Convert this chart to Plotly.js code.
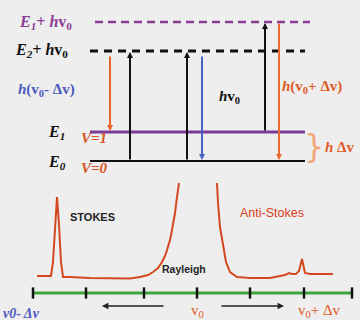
<!DOCTYPE html>
<html>
<head>
<meta charset="utf-8">
<script src="https://cdn.plot.ly/plotly-3.0.1.min.js"></script>
<style>html,body{margin:0;padding:0;background:#eeeeee;}#chart{width:360px;height:320px;}</style>
</head>
<body>
<div id="chart"></div>
<script>
// ---- data ----
const levelNames = ['E1+hv0', 'E2+hv0', 'E1', 'E0'];
const levelY = [22, 51, 132, 161];
const levelX0 = [95, 90, 90, 90];
const levelX1 = [310, 305, 305, 305];

const transNames = ['anti-stokes emission', 'excitation', 'excitation', 'rayleigh emission', 'excitation from E1', 'anti-stokes emission 2'];
const transX = [110, 130, 187, 202, 265, 279];
const transFromY = [55, 161, 161, 55, 132, 22];
const transToY = [131, 52, 52, 160, 23, 160];

const specLeftX = [37, 45, 51, 53, 55, 57, 59, 61, 63, 70, 90, 110, 130, 140, 148, 153, 158, 162, 165, 167, 170, 172, 174, 175, 177, 179];
const specLeftY = [276, 276, 276, 262, 225, 197, 225, 262, 277, 277, 278, 278.5, 278.5, 277, 275, 272, 268, 262, 256, 250, 240, 230, 220, 213, 197, 183];
const specRightX = [217, 218, 220, 223, 226, 230, 237, 250, 270, 285, 289, 292, 296, 299, 300.5, 302, 303.5, 305, 310, 333];
const specRightY = [183, 203, 227, 247, 262, 272, 277, 278, 278, 275, 273, 274, 274, 271, 264, 259, 266, 273, 274, 274];

const axisTickX = [33, 86, 144, 197, 250, 304, 352];

// ---- build ----
const traces = [];
const levelColors = ['#8a3c95', '#111111', '#7b3b98', '#111111'];
const levelDash = ['8px,5px', '8px,6px', 'solid', 'solid'];
const levelWidth = [2.5, 3, 3, 2.2];
for (let i = 0; i < levelY.length; i++) {
  traces.push({x: [levelX0[i], levelX1[i]], y: [levelY[i], levelY[i]], mode: 'lines', name: levelNames[i],
    line: {color: levelColors[i], width: levelWidth[i], dash: levelDash[i]}, hoverinfo: 'skip'});
}
traces.push({x: specLeftX, y: specLeftY, mode: 'lines', line: {color: '#d4481f', width: 2}, hoverinfo: 'skip'});
traces.push({x: specRightX, y: specRightY, mode: 'lines', line: {color: '#d4481f', width: 2}, hoverinfo: 'skip'});
traces.push({x: [axisTickX[0], axisTickX[axisTickX.length - 1]], y: [293, 293], mode: 'lines', line: {color: '#3aa53a', width: 3}, hoverinfo: 'skip'});
traces.push({x: axisTickX, y: axisTickX.map(() => 293), mode: 'markers', marker: {symbol: 'line-ns', size: 8, line: {color: '#111', width: 2.5}}, hoverinfo: 'skip'});

const transColors = ['#e8622a', '#111111', '#111111', '#4a62c4', '#111111', '#ee6a2e'];
const annotations = [];
for (let i = 0; i < transX.length; i++) {
  annotations.push({x: transX[i], y: transToY[i], ax: transX[i], ay: transFromY[i], xref: 'x', yref: 'y', axref: 'x', ayref: 'y',
    showarrow: true, arrowhead: 2, arrowsize: 0.6, arrowwidth: 2, arrowcolor: transColors[i], text: ''});
}
// bottom arrows
annotations.push({x: 102, y: 306, ax: 165, ay: 306, xref: 'x', yref: 'y', axref: 'x', ayref: 'y', showarrow: true, arrowhead: 2, arrowsize: 0.8, arrowwidth: 1.6, arrowcolor: '#222', text: ''});
annotations.push({x: 284, y: 306, ax: 220, ay: 306, xref: 'x', yref: 'y', axref: 'x', ayref: 'y', showarrow: true, arrowhead: 2, arrowsize: 0.8, arrowwidth: 1.6, arrowcolor: '#222', text: ''});

const serif = 'Liberation Serif, Times New Roman, serif';
const sans = 'Liberation Sans, Arial, sans-serif';
function txt(x, y, text, color, size, family, xanchor) {
  annotations.push({x: x, y: y, xref: 'x', yref: 'y', text: text, showarrow: false, xanchor: xanchor || 'left', yanchor: 'middle',
    font: {color: color, size: size, family: family}});
}
txt(17, 22, '<b><i>E<sub>1</sub>+ h</i>v<sub>0</sub></b>', '#8a3c95', 16, serif);
txt(13, 50, '<b><i>E<sub>2</sub>+ h</i>v<sub>0</sub></b>', '#111', 16, serif);
txt(16, 90, '<b><i>h</i>(v<sub>0</sub>- Δv)</b>', '#4a5abb', 15, serif);
txt(217, 97, '<b><i>h</i>v<sub>0</sub></b>', '#111', 15, serif);
txt(280, 87, '<b><i>h</i>(v<sub>0</sub>+ Δv)</b>', '#e05a24', 15, serif);
txt(46, 132, '<b><i>E<sub>1</sub></i></b>', '#111', 16, serif);
txt(46, 162, '<b><i>E<sub>0</sub></i></b>', '#111', 16, serif);
txt(79, 138, '<b><i>V=1</i></b>', '#d9541e', 15, serif);
txt(79, 168, '<b><i>V=0</i></b>', '#d9541e', 15, serif);
txt(314, 146, '}', '#f0a878', 32, 'DejaVu Sans ExtraLight, DejaVu Sans, sans-serif', 'center');
txt(323, 147, '<b><i>h</i> Δv</b>', '#e05a24', 15, serif);
txt(68, 217, '<b>STOKES</b>', '#222', 11, sans);
txt(238, 213, 'Anti-Stokes', '#d9401c', 12.5, sans);
txt(160, 269, '<b>Rayleigh</b>', '#222', 10.5, sans);
txt(1, 313, '<b><i>ν0- Δν</i></b>', '#4a5abb', 14, serif);
txt(197, 311, 'v<sub>0</sub>', '#e05a24', 15, serif, 'center');
txt(296, 311, 'v<sub>0</sub>+ Δv', '#e05a24', 15, serif);

const layout = {
  width: 360, height: 320, margin: {l: 0, r: 0, t: 0, b: 0},
  paper_bgcolor: '#eeeeee', plot_bgcolor: '#eeeeee', showlegend: false,
  xaxis: {range: [0, 360], visible: false, fixedrange: true},
  yaxis: {range: [320, 0], visible: false, fixedrange: true},
  annotations: annotations
};
Plotly.newPlot('chart', traces, layout, {staticPlot: true});
</script>
</body>
</html>
